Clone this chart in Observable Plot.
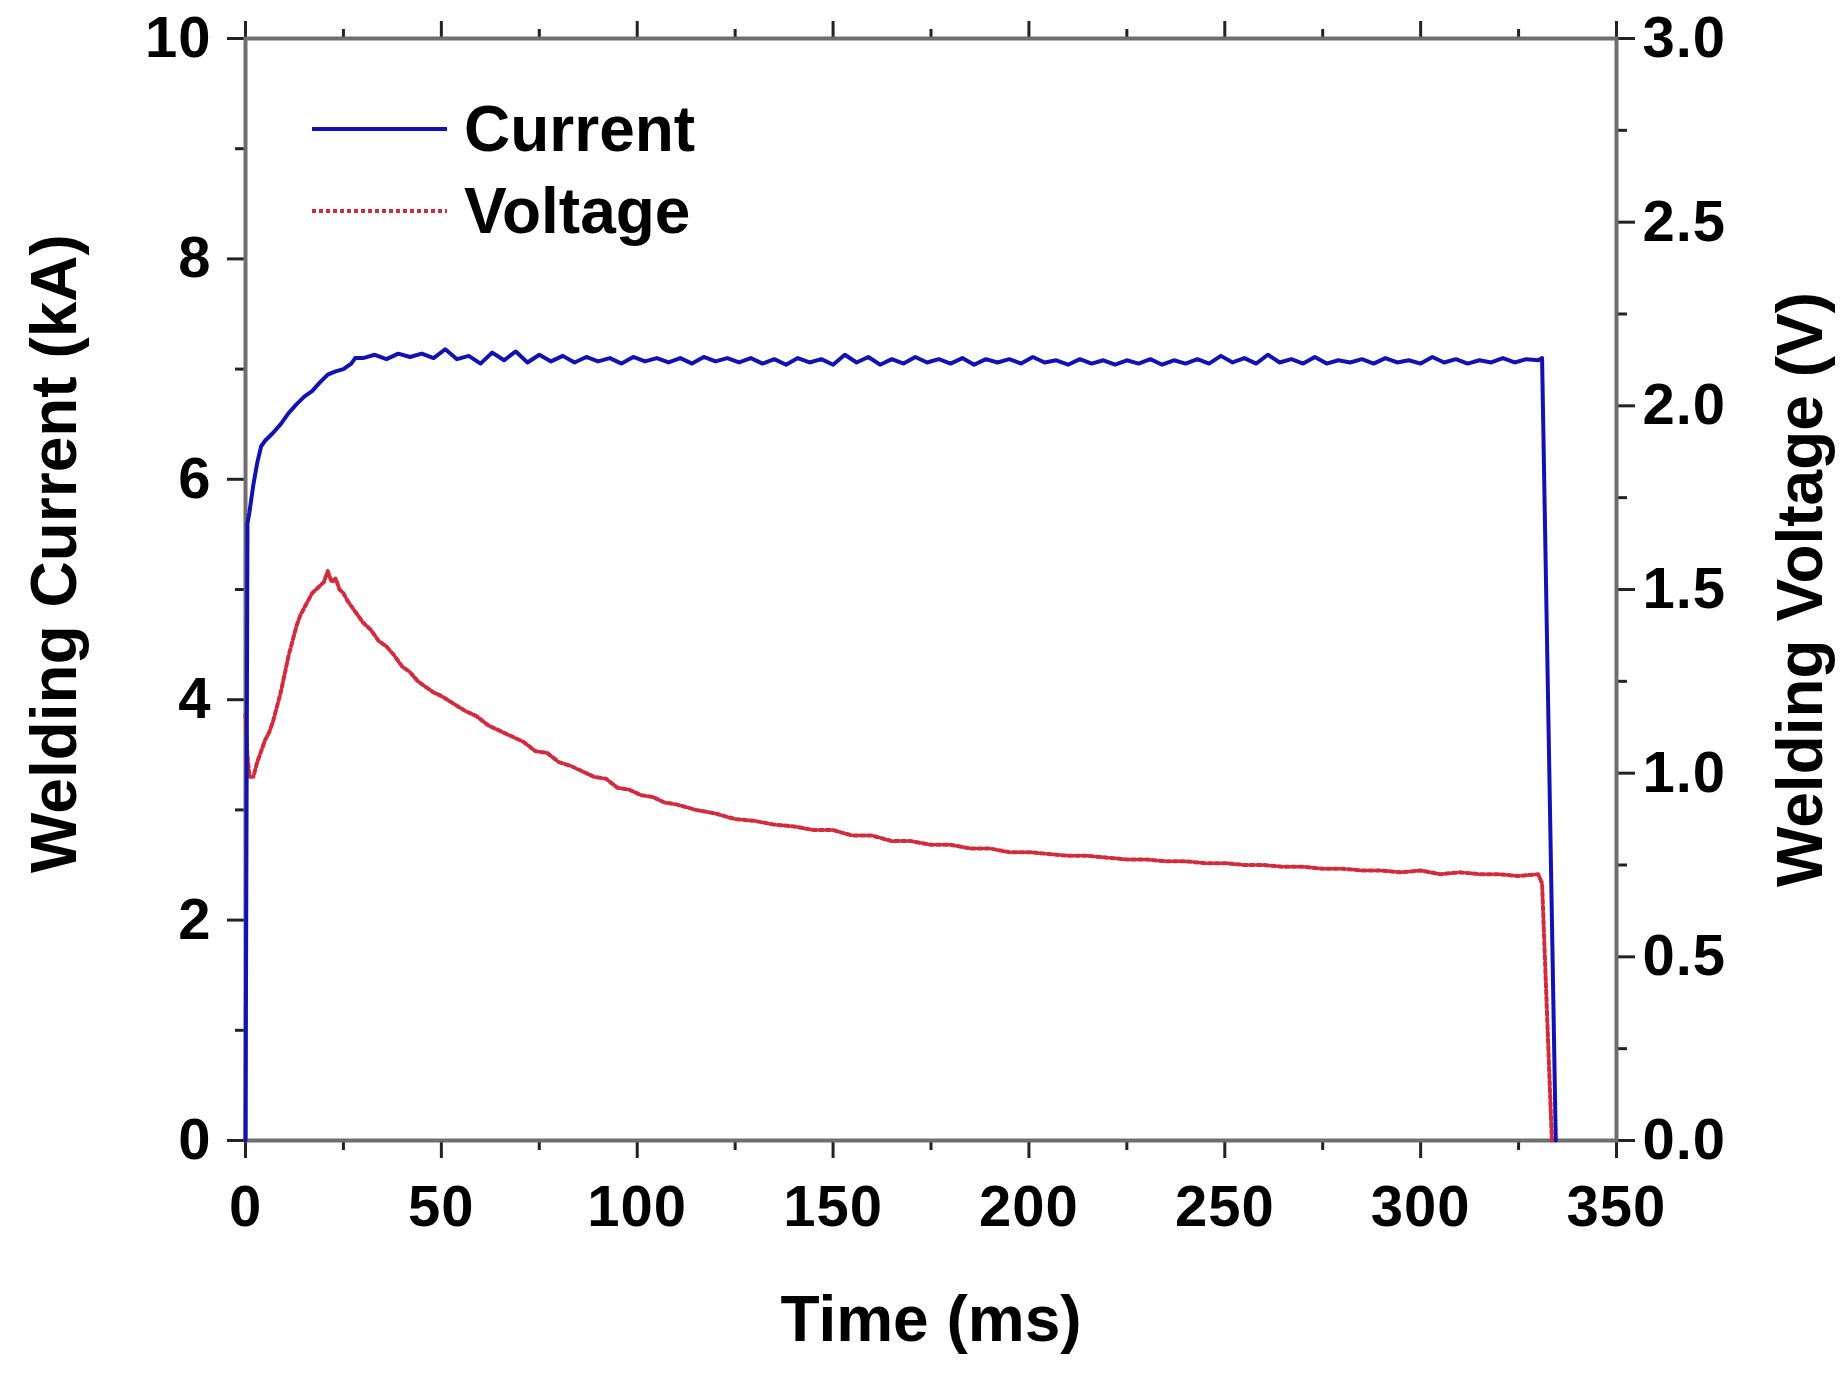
<!DOCTYPE html>
<html>
<head>
<meta charset="utf-8">
<script src="https://cdn.jsdelivr.net/npm/d3@7"></script>
<script src="https://cdn.jsdelivr.net/npm/@observablehq/plot@0.6"></script>
<style>
  html, body { margin: 0; padding: 0; background: #fff; }
  #wrap { position: relative; width: 1844px; height: 1380px; font-family: "Liberation Sans", Arial, sans-serif; }
  .leg { position: absolute; display: flex; align-items: center; font-weight: bold; font-size: 64px; color: #000; }
  .leg svg { margin-right: 17px; }
</style>
</head>
<body>
<div id="wrap"></div>
<script>
// ---- data ----
const currentTime = [0, 0.5, 1, 2, 3, 4, 5, 7, 9, 11, 13, 15, 17, 19, 21, 23, 25, 27, 28,
  30, 33, 36, 39, 42, 45, 48, 51, 54, 57, 60, 63, 66, 69, 72, 75, 78, 81, 84, 87, 90, 93, 96, 99,
  102, 105, 108, 111, 114, 117, 120, 123, 126, 129, 132, 135, 138, 141, 144, 147, 150, 153, 156, 159,
  162, 165, 168, 171, 174, 177, 180, 183, 186, 189, 192, 195, 198, 201, 204, 207, 210, 213, 216, 219,
  222, 225, 228, 231, 234, 237, 240, 243, 246, 249, 252, 255, 258, 261, 264, 267, 270, 273, 276, 279,
  282, 285, 288, 291, 294, 297, 300, 303, 306, 309, 312, 315, 318, 321, 324, 327, 330, 331, 334.5];
const currentKA = [0, 5.6, 5.7, 5.95, 6.15, 6.3, 6.35, 6.42, 6.5, 6.6, 6.68, 6.75, 6.8, 6.88, 6.95, 6.98, 7.0, 7.05, 7.1,
  7.10, 7.13, 7.09, 7.14, 7.11, 7.14, 7.10, 7.18, 7.09, 7.12, 7.05, 7.15, 7.08, 7.16, 7.06, 7.13, 7.07, 7.12, 7.06, 7.11, 7.07, 7.10, 7.05, 7.11,
  7.07, 7.10, 7.06, 7.10, 7.05, 7.11, 7.07, 7.10, 7.06, 7.10, 7.05, 7.09, 7.04, 7.10, 7.06, 7.09, 7.04, 7.13, 7.06, 7.11,
  7.04, 7.09, 7.05, 7.11, 7.06, 7.09, 7.05, 7.10, 7.04, 7.09, 7.06, 7.09, 7.05, 7.11, 7.06, 7.08, 7.04, 7.09, 7.05, 7.08,
  7.04, 7.08, 7.05, 7.09, 7.04, 7.08, 7.05, 7.09, 7.05, 7.12, 7.06, 7.10, 7.05, 7.13, 7.06, 7.09, 7.05, 7.11, 7.05, 7.08,
  7.06, 7.09, 7.05, 7.10, 7.06, 7.08, 7.05, 7.11, 7.06, 7.09, 7.05, 7.08, 7.06, 7.10, 7.06, 7.09, 7.08, 7.10, 0];

const voltageTime = [0, 0.5, 1, 2, 3, 4, 5, 6, 7, 8, 9, 10, 11, 12, 13, 14, 15, 16, 17, 18, 19, 20, 21, 22, 23, 24, 25, 26,
  28, 30, 32, 34, 36, 38, 40, 42, 44, 46, 48, 50, 53, 56, 59, 62, 65, 68, 71, 74, 77, 80, 83, 86, 89, 92, 95, 98,
  101, 104, 107, 110, 115, 120, 125, 130, 135, 140, 145, 150, 155, 160, 165, 170, 175, 180, 185, 190, 195, 200,
  205, 210, 215, 220, 225, 230, 235, 240, 245, 250, 255, 260, 265, 270, 275, 280, 285, 290, 295, 300, 305, 310,
  315, 320, 325, 330, 331, 333.5];
const voltageV = [1.16, 1.05, 0.99, 0.99, 1.03, 1.06, 1.09, 1.11, 1.14, 1.18, 1.22, 1.27, 1.32, 1.36, 1.40, 1.43, 1.45, 1.47, 1.49, 1.50, 1.51, 1.52, 1.55, 1.52, 1.53, 1.50, 1.49, 1.47,
  1.44, 1.41, 1.39, 1.36, 1.345, 1.32, 1.29, 1.275, 1.25, 1.235, 1.22, 1.21, 1.19, 1.17, 1.155, 1.13, 1.115, 1.10, 1.085, 1.06, 1.055, 1.03, 1.02, 1.005, 0.99, 0.985, 0.96, 0.955,
  0.94, 0.935, 0.92, 0.915, 0.90, 0.89, 0.875, 0.87, 0.86, 0.855, 0.845, 0.845, 0.83, 0.83, 0.815, 0.815, 0.805, 0.805, 0.795, 0.795, 0.785, 0.785,
  0.78, 0.775, 0.775, 0.77, 0.765, 0.765, 0.76, 0.76, 0.755, 0.755, 0.75, 0.75, 0.745, 0.745, 0.74, 0.74, 0.735, 0.735, 0.73, 0.735, 0.725, 0.73,
  0.725, 0.725, 0.72, 0.725, 0.70, 0];

const xMajorTicks = [0, 50, 100, 150, 200, 250, 300, 350];
const xMinorTicks = [25, 75, 125, 175, 225, 275, 325];
const currentTicks = [0, 2, 4, 6, 8, 10];
const currentMinorTicks = [1, 3, 5, 7, 9];
const voltageTicks = [0, 0.5, 1.0, 1.5, 2.0, 2.5, 3.0];
const voltageMinorTicks = [0.25, 0.75, 1.25, 1.75, 2.25, 2.75];
const seriesNames = ["Current", "Voltage"];

// ---- build ----
const vScale = 10 / 3; // right axis 0–3 V maps onto left 0–10 kA
const currentData = currentTime.map((t, i) => ({t, v: currentKA[i]}));
const voltageData = voltageTime.map((t, i) => ({t, v: voltageV[i] * vScale}));

const AX = "#6e6e6e";
const TK = "#222";
const fontTick = 58;
const CUR_COLOR = "#1212b4";
const VOL_COLOR = "#d42a3c";
const VOL_DASH = "4,3";

const plot = Plot.plot({
  width: 1844,
  height: 1380,
  marginLeft: 245,
  marginRight: 228,
  marginTop: 38,
  marginBottom: 240,
  style: {fontFamily: '"Liberation Sans", Arial, sans-serif', fontWeight: "bold", color: "#000", background: "#fff"},
  x: {domain: [0, 350]},
  y: {domain: [0, 10]},
  marks: [
    // minor ticks (no labels)
    Plot.axisX({anchor: "bottom", ticks: xMinorTicks, tickSize: 10, text: null, label: null, stroke: TK, strokeWidth: 3}),
    Plot.axisX({anchor: "top", ticks: xMinorTicks, tickSize: 10, text: null, label: null, stroke: TK, strokeWidth: 3}),
    Plot.axisY({anchor: "left", ticks: currentMinorTicks, tickSize: 10, text: null, label: null, stroke: TK, strokeWidth: 3}),
    Plot.axisY({anchor: "right", ticks: voltageMinorTicks.map(v => v * vScale), tickSize: 10, text: null, label: null, stroke: TK, strokeWidth: 3}),
    // major ticks + labels
    Plot.axisX({anchor: "bottom", ticks: xMajorTicks, tickSize: 18, tickPadding: 26, fontSize: fontTick, stroke: TK, strokeWidth: 3,
      label: "Time (ms)", labelAnchor: "center", labelArrow: "none", labelOffset: 200}),
    Plot.axisX({anchor: "top", ticks: xMajorTicks, tickSize: 18, text: null, label: null, stroke: TK, strokeWidth: 3}),
    Plot.axisY({anchor: "left", ticks: currentTicks, tickSize: 18, tickPadding: 16, fontSize: fontTick, stroke: TK, strokeWidth: 3,
      label: "Welding Current (kA)", labelAnchor: "center", labelArrow: "none", labelOffset: 215}),
    Plot.axisY({anchor: "right", ticks: voltageTicks.map(v => v * vScale), tickFormat: d => (d / vScale).toFixed(1),
      tickSize: 18, tickPadding: 8, fontSize: fontTick, stroke: TK, strokeWidth: 3,
      label: "Welding Voltage (V)", labelAnchor: "center", labelArrow: "none", labelOffset: 205}),
    Plot.frame({stroke: AX, strokeWidth: 4}),
    Plot.line(voltageData, {x: "t", y: "v", stroke: VOL_COLOR, strokeWidth: 4, strokeDasharray: VOL_DASH, curve: "linear"}),
    Plot.line(currentData, {x: "t", y: "v", stroke: CUR_COLOR, strokeWidth: 4, curve: "linear"})
  ]
});

// axis-title size and placement
d3.select(plot).selectAll('g[aria-label$="axis label"] text').attr("font-size", 64);
d3.select(plot).selectAll('g[aria-label$="axis label"] text')
  .filter(function() { return this.textContent.startsWith("Welding Current"); })
  .attr("dx", 36);
d3.select(plot).selectAll('g[aria-label$="tick label"] text').style("letter-spacing", "1px");

const wrap = document.getElementById("wrap");
wrap.appendChild(plot);

// legend overlay (inside the plot area, top-left)
const legendStyles = [
  {color: CUR_COLOR, dash: null, width: 4},
  {color: VOL_COLOR, dash: VOL_DASH, width: 4}
];
seriesNames.forEach((name, i) => {
  const row = document.createElement("div");
  row.className = "leg";
  row.style.left = "312px";
  row.style.top = (92 + i * 82) + "px";
  const s = legendStyles[i];
  row.innerHTML = `<svg width="135" height="20"><line x1="0" x2="135" y1="10" y2="10" stroke="${s.color}" stroke-width="${s.width}" ${s.dash ? `stroke-dasharray="${s.dash}"` : ""}/></svg><span>${name}</span>`;
  wrap.appendChild(row);
});
</script>
</body>
</html>
